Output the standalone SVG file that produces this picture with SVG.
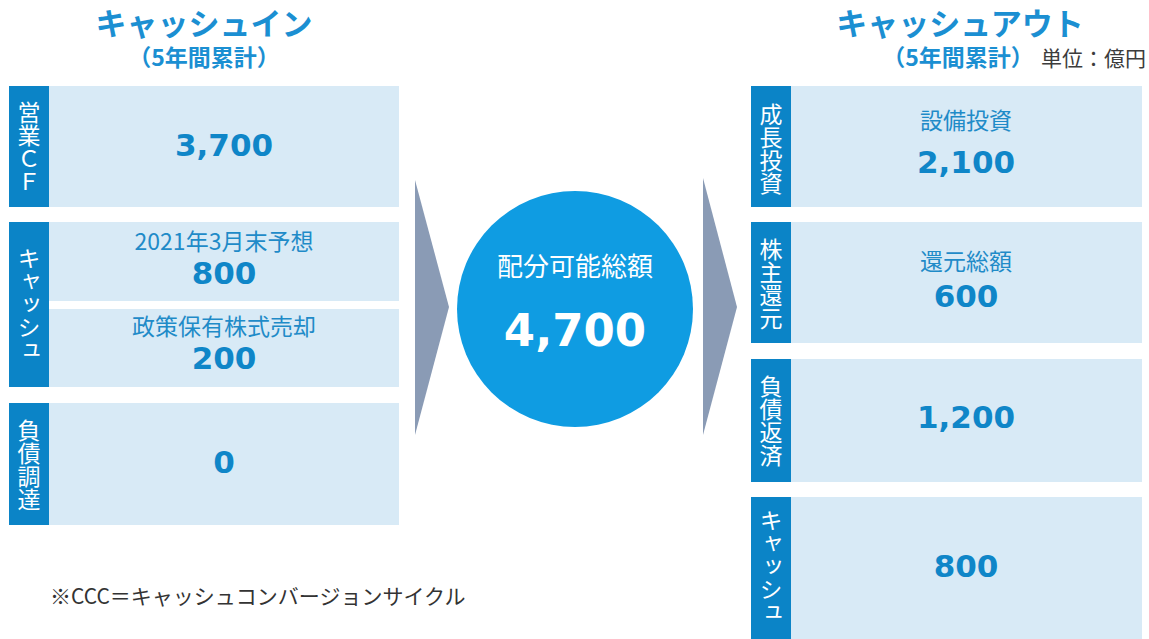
<svg xmlns="http://www.w3.org/2000/svg" width="1149" height="639" viewBox="0 0 1149 639">
<style>
.bg{fill:#ffffff}
.strip{fill:#0b84c7}
.box{fill:#d8eaf6}
.title{font-family:"Noto Sans CJK JP",sans-serif;font-weight:700;fill:#1b8fd2;text-anchor:middle}
.sub{font-family:"Noto Sans CJK JP",sans-serif;font-weight:700;fill:#1b8fd2;font-size:23px;text-anchor:middle}
.unit{font-family:"Noto Sans CJK JP",sans-serif;fill:#3c3c3c;font-size:21px}
.vt{font-family:"Noto Sans CJK JP",sans-serif;fill:#ffffff;font-size:23px;writing-mode:vertical-rl;text-anchor:middle}
.val{font-family:"DejaVu Sans",sans-serif;font-weight:700;fill:#0f86c8;font-size:31px;text-anchor:middle}
.lbl{font-family:"Noto Sans CJK JP",sans-serif;fill:#1f8bc8;font-size:23px;text-anchor:middle}
.arrow{fill:#8a9bb5}
.note{font-family:"Noto Sans CJK JP",sans-serif;fill:#333333;font-size:21px}
</style>
<rect class="bg" x="0" y="0" width="1149" height="639"/>

<g id="header-in">
<text class="title" x="204" y="35" font-size="31">キャッシュイン</text>
<text class="sub" x="204" y="66">（5年間累計）</text>
</g>
<g id="header-out">
<text class="title" x="960" y="35" font-size="31">キャッシュアウト</text>
<text class="sub" x="958" y="66">（5年間累計）</text>
<text class="unit" x="1041" y="66">単位：億円</text>
</g>

<g id="in-operating-cf">
<rect class="strip" x="9" y="86" width="40" height="121"/>
<rect class="box" x="49" y="86" width="350" height="121"/>
<text class="vt" x="29" y="147">営業ＣＦ</text>
<text class="val" x="224" y="156">3,700</text>
</g>

<g id="in-cash">
<rect class="strip" x="9" y="222" width="40" height="165"/>
<rect class="box" x="49" y="222" width="350" height="79"/>
<rect class="box" x="49" y="309" width="350" height="78"/>
<text class="vt" x="29" y="304">キャッシュ</text>
<text class="lbl" x="224" y="250">2021年3月末予想</text>
<text class="val" x="224" y="284">800</text>
<text class="lbl" x="224" y="335">政策保有株式売却</text>
<text class="val" x="224" y="369">200</text>
</g>

<g id="in-debt">
<rect class="strip" x="9" y="403" width="40" height="122"/>
<rect class="box" x="49" y="403" width="350" height="122"/>
<text class="vt" x="29" y="465">負債調達</text>
<text class="val" x="224" y="473">0</text>
</g>

<g id="connectors">
<polygon class="arrow" points="415,180 449,307 415,435"/>
<polygon class="arrow" points="703,178 737,307 703,435"/>
</g>

<g id="distributable-total">
<circle cx="575" cy="309" r="118" fill="#0f9ce2"/>
<text x="575" y="276" font-family="Noto Sans CJK JP, sans-serif" font-size="26" fill="#ffffff" text-anchor="middle">配分可能総額</text>
<text x="575" y="346" font-family="DejaVu Sans, sans-serif" font-weight="700" font-size="45" fill="#ffffff" text-anchor="middle">4,700</text>
</g>

<g id="out-growth">
<rect class="strip" x="751" y="86" width="40" height="121"/>
<rect class="box" x="791" y="86" width="351" height="121"/>
<text class="vt" x="771" y="149">成長投資</text>
<text class="lbl" x="966" y="129">設備投資</text>
<text class="val" x="966" y="173">2,100</text>
</g>

<g id="out-shareholder">
<rect class="strip" x="751" y="222" width="40" height="121"/>
<rect class="box" x="791" y="222" width="351" height="121"/>
<text class="vt" x="771" y="284">株主還元</text>
<text class="lbl" x="966" y="270">還元総額</text>
<text class="val" x="966" y="307">600</text>
</g>

<g id="out-debt">
<rect class="strip" x="751" y="359" width="40" height="123"/>
<rect class="box" x="791" y="359" width="351" height="123"/>
<text class="vt" x="771" y="421">負債返済</text>
<text class="val" x="966" y="428">1,200</text>
</g>

<g id="out-cash">
<rect class="strip" x="751" y="497" width="40" height="142"/>
<rect class="box" x="791" y="497" width="351" height="142"/>
<text class="vt" x="771" y="566">キャッシュ</text>
<text class="val" x="966" y="577">800</text>
</g>

<g id="note">
<text class="note" x="50" y="604">※CCC＝キャッシュコンバージョンサイクル</text>
</g>
</svg>
